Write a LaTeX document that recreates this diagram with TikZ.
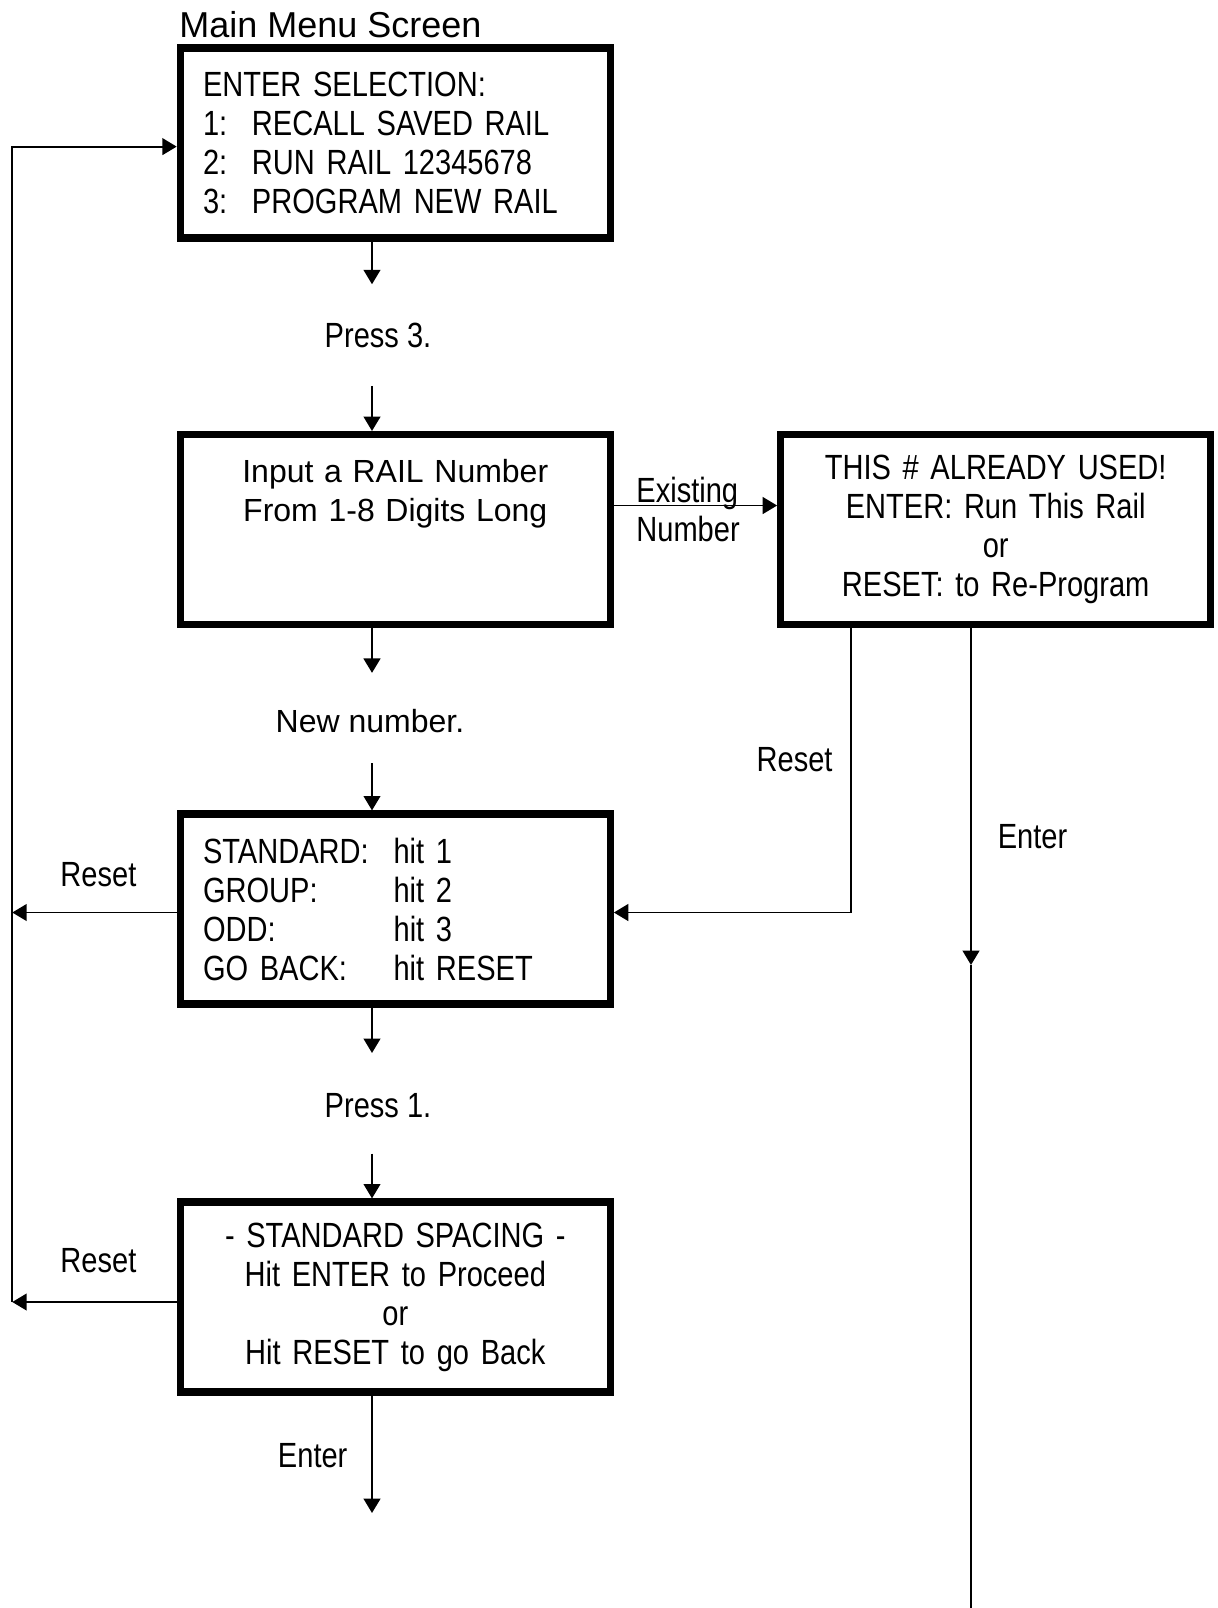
\documentclass[tikz,border=0pt]{standalone}
\usepackage{fontspec}
\setmainfont{Liberation Sans}
\newfontfamily\narrowfont{Liberation Sans}[FakeStretch=0.83]
\usetikzlibrary{arrows.meta}

\tikzset{
  screen/.style={draw, line width=3.6pt, minimum height=95pt,
    text width=192.3pt, inner xsep=11.35pt, align=left,
    font=\narrowfont\fontsize{17.5}{19.5}\selectfont},
  lbl/.style={inner sep=0pt, font=\narrowfont\fontsize{17.5}{19.5}\selectfont},
  arr/.style={line width=0.9pt, -{Triangle[length=7.2pt,width=8.4pt]}},
  wire/.style={line width=0.9pt},
}

\begin{document}
\begin{tikzpicture}[x=0.5pt,y=-0.5pt]
  \useasboundingbox (0,0) rectangle (1217,1608);

  % screens
  \node[anchor=base west, inner sep=0pt, font=\fontsize{18}{20}\selectfont]
    (title) at (179,37) {Main Menu Screen};
  \node[screen] (menu) at (395.3,143) {ENTER SELECTION:\\
    \makebox[24.5pt][l]{1:}RECALL SAVED RAIL\\
    \makebox[24.5pt][l]{2:}RUN RAIL 12345678\\
    \makebox[24.5pt][l]{3:}PROGRAM NEW RAIL};
  \node[screen, align=center, font=\fontsize{16}{19.5}\selectfont]
    (input) at (395.3,529.6) {Input a RAIL Number\\From 1-8 Digits Long\\~\\~};
  \node[screen, align=center] (used) at (995.7,529.6)
    {THIS \# ALREADY USED!\\ENTER: Run This Rail\\or\\RESET: to Re-Program};
  \node[screen] (choice) at (395.3,909) {\makebox[95.3pt][l]{STANDARD:}hit 1\\
    \makebox[95.3pt][l]{GROUP:}hit 2\\
    \makebox[95.3pt][l]{ODD:}hit 3\\
    \makebox[95.3pt][l]{GO BACK:}hit RESET};
  \node[screen, align=center] (spacing) at (395.3,1297)
    {- STANDARD SPACING -\\Hit ENTER to Proceed\\or\\Hit RESET to go Back};

  % labels
  \node[lbl] (pthree) at (378,335) {Press 3.};
  \node[lbl, font=\fontsize{16}{19.5}\selectfont] (newnum) at (370,721) {New number.};
  \node[lbl] (pone) at (378,1106) {Press 1.};
  \node[lbl, anchor=west, align=left] (exist) at (636,509.5) {Existing\\Number};
  \node[lbl] (rstr) at (794.6,759.7) {Reset};
  \node[lbl] (entr) at (1032.5,836.6) {Enter};
  \node[lbl] (rst1) at (98.4,874.6) {Reset};
  \node[lbl] (rst2) at (98.4,1261) {Reset};
  \node[lbl] (entb) at (312.7,1456) {Enter};

  \coordinate (colx) at (372,0);
  \coordinate (fin) at (372,1513);
  \coordinate (exy) at (0,505.5);
  \coordinate (rstc) at (851,912.5);
  \coordinate (entc) at (971,965);
  \coordinate (entd) at (971,1608);
  \coordinate (loopt) at (12.3,146.6);
  \coordinate (loopm) at (12.3,912.5);
  \coordinate (loopb) at (12.3,1302);

  % main column
  \foreach \a/\b/\c/\s/\t in {menu/pthree/input/19pt/19pt,
                              input/newnum/choice/18pt/15pt,
                              choice/pone/spacing/20.2pt/17.5pt} {
    \draw[arr, shorten >=\s] (\a.south -| colx) -- (\b.north -| colx);
    \draw[arr, shorten <=\t] (\b.south -| colx) -- (\c.north -| colx);
  }
  \draw[arr] (spacing.south -| colx) -- (fin);

  % side branches
  \draw[arr] (input.east |- exy) -- (used.west |- exy);
  \draw[arr] (used.south -| rstc) -- (rstc) -- (choice.east |- rstc);
  \draw[arr] (used.south -| entc) -- (entc);
  \draw[wire] (entc) -- (entd);

  % back to main menu
  \draw[arr] (choice.west |- loopm) -- (loopm);
  \draw[arr] (spacing.west |- loopb) -- (loopb);
  \draw[arr] (loopb) -- (loopt) -- (menu.west |- loopt);
\end{tikzpicture}
\end{document}
